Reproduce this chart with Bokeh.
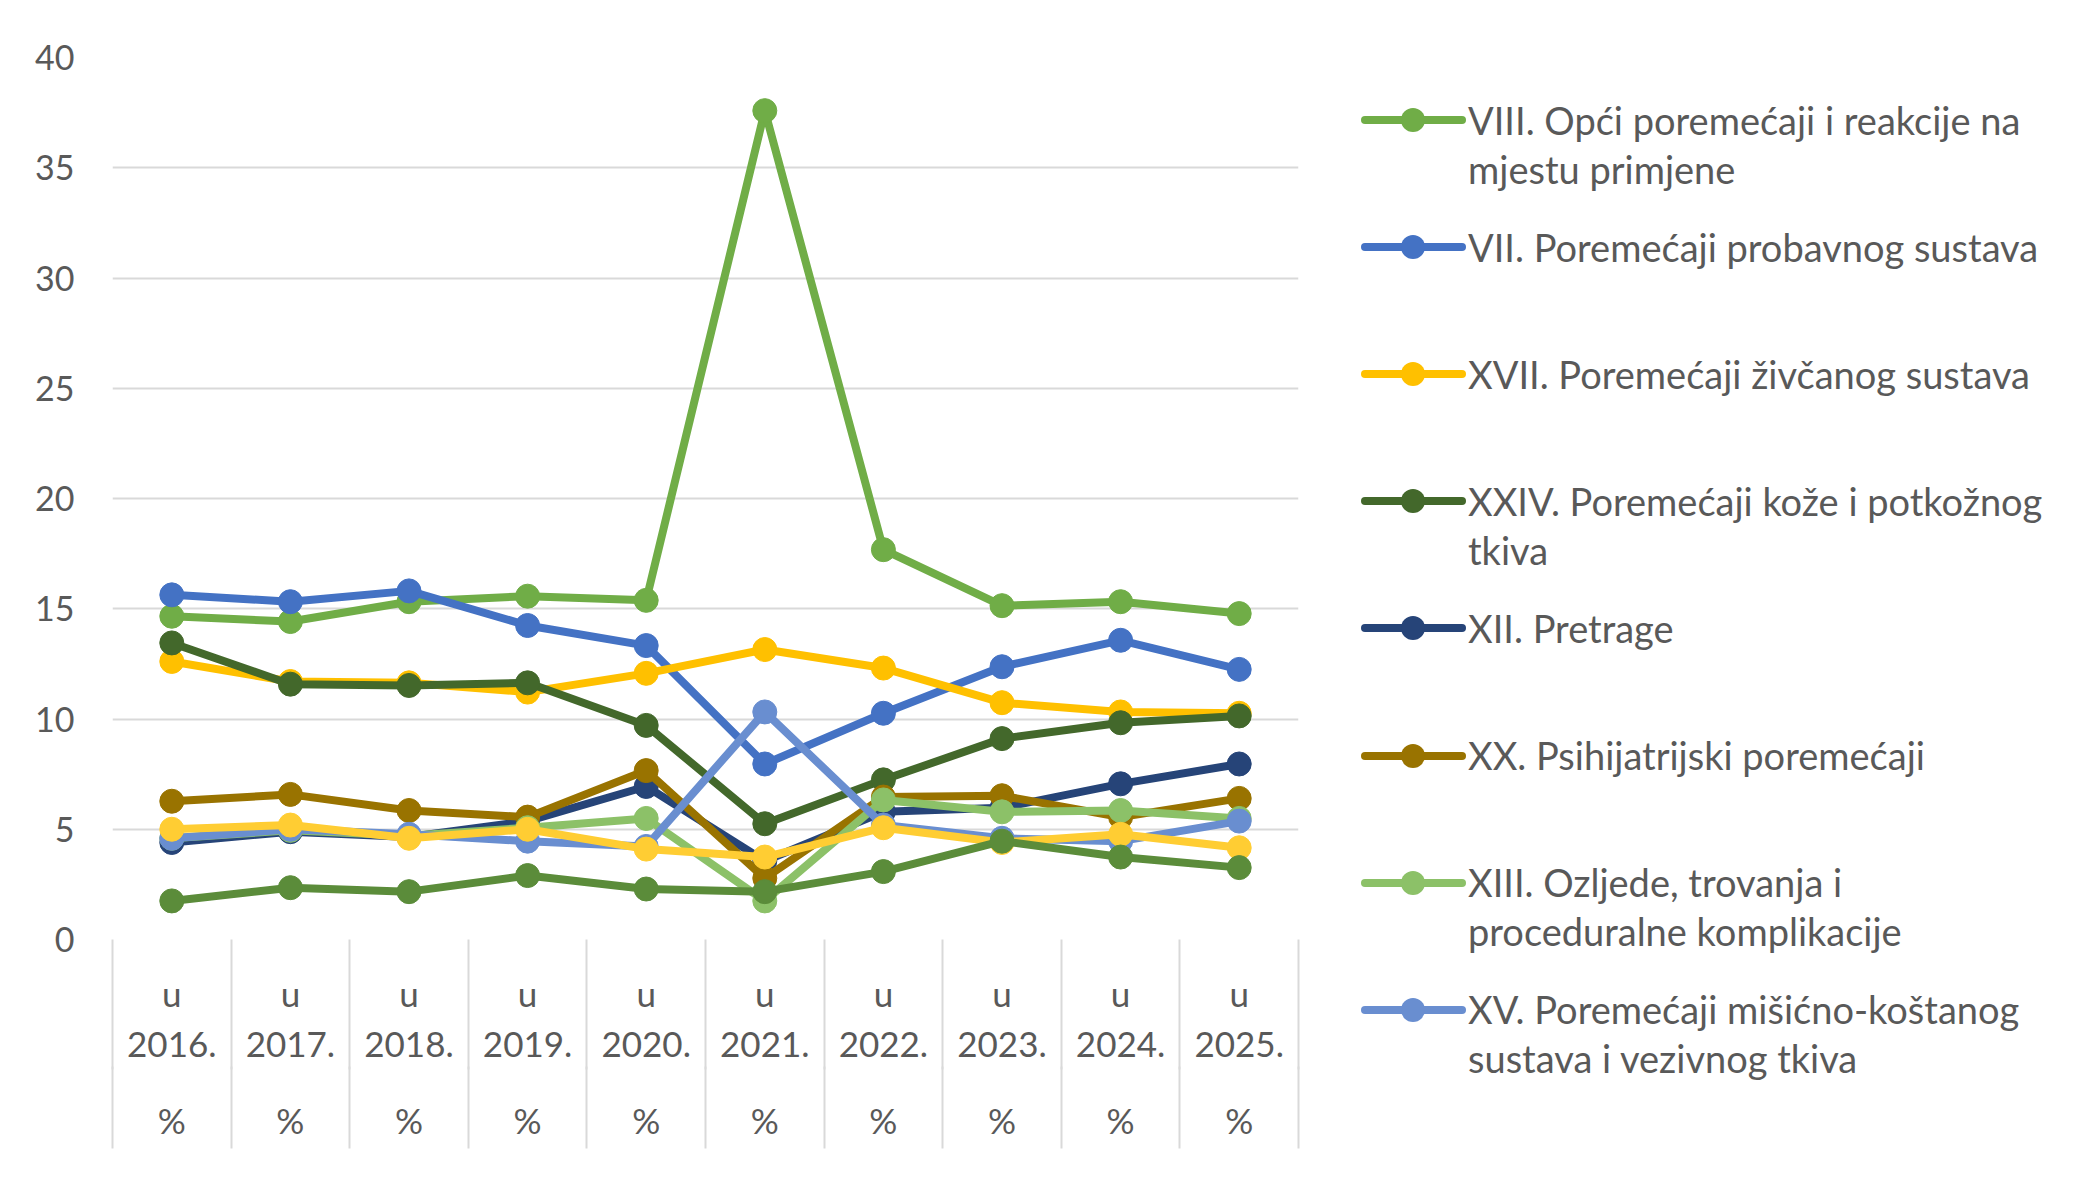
from bokeh.plotting import figure
from bokeh.models import FixedTicker, LinearAxis, Range1d, Div
from bokeh.layouts import row
from bokeh.embed import file_html
from bokeh.resources import INLINE

# ---------------- data ----------------
years = ["2016.", "2017.", "2018.", "2019.", "2020.", "2021.", "2022.", "2023.", "2024.", "2025."]
prefix = "u"
unit = "%"

viii = [14.66, 14.42, 15.32, 15.57, 15.38, 37.59, 17.68, 15.14, 15.32, 14.78]
vii = [15.63, 15.32, 15.81, 14.24, 13.33, 7.96, 10.26, 12.37, 13.57, 12.25]
xvii = [12.61, 11.70, 11.64, 11.22, 12.07, 13.15, 12.31, 10.74, 10.32, 10.26]
xxiv = [13.45, 11.58, 11.52, 11.64, 9.71, 5.25, 7.24, 9.11, 9.83, 10.14]
xii = [4.40, 4.89, 4.65, 5.37, 6.94, 3.56, 5.79, 5.97, 7.06, 7.96]
xx = [6.27, 6.58, 5.85, 5.55, 7.66, 2.78, 6.46, 6.52, 5.55, 6.40]
xiii = [4.59, 4.95, 4.70, 5.07, 5.49, 1.75, 6.33, 5.79, 5.85, 5.49]
xv = [4.59, 5.00, 4.77, 4.46, 4.22, 10.32, 5.19, 4.59, 4.46, 5.37]
ser9 = [5.00, 5.19, 4.59, 5.00, 4.10, 3.74, 5.07, 4.40, 4.77, 4.16]
ser10 = [1.75, 2.35, 2.17, 2.90, 2.29, 2.17, 3.08, 4.46, 3.74, 3.26]

series = [viii, vii, xvii, xxiv, xii, xx, xiii, xv, ser9, ser10]
colors = ["#70AD47", "#4472C4", "#FFC000", "#43682B", "#264478", "#997300",
          "#8CC168", "#698ED0", "#FFCD33", "#5B8C3A"]
legend_names = [
    "VIII. Opći poremećaji i reakcije na\nmjestu primjene",
    "VII. Poremećaji probavnog sustava",
    "XVII. Poremećaji živčanog sustava",
    "XXIV. Poremećaji kože i potkožnog\ntkiva",
    "XII. Pretrage",
    "XX. Psihijatrijski poremećaji",
    "XIII. Ozljede, trovanja i\nproceduralne komplikacije",
    "XV. Poremećaji mišićno-koštanog\nsustava i vezivnog tkiva",
]

y_ticks = list(range(0, 41, 5))

FONT = "Lato"
TXT = "#595959"
GRID = "#D9D9D9"
LW = 8
MS = 24

# ---------------- layout constants (pixels) ----------------
W, H = 2086, 1180
PLOT_W = 1300
F_LEFT, F_RIGHT, F_TOP, F_BOTTOM = 112, 1298, 57, 939

n = len(years)
xs = list(range(n))

p = figure(width=PLOT_W, height=H, x_range=Range1d(-0.5, n - 0.5), y_range=Range1d(0, 40),
           output_backend="svg", toolbar_location=None, x_axis_location=None,
           y_axis_location=None, min_border_left=F_LEFT, min_border_right=PLOT_W - F_RIGHT,
           min_border_top=F_TOP, min_border_bottom=H - F_BOTTOM)
p.outline_line_color = None
p.background_fill_color = "white"
p.border_fill_color = "white"

yaxis = LinearAxis(ticker=FixedTicker(ticks=y_ticks))
yaxis.axis_line_color = None
yaxis.major_tick_line_color = None
yaxis.minor_tick_line_color = None
yaxis.major_tick_out = 0
yaxis.major_label_standoff = 38
yaxis.major_label_text_font = FONT
yaxis.major_label_text_font_size = "34px"
yaxis.major_label_text_color = TXT
p.add_layout(yaxis, "left")

p.xgrid.visible = False
p.ygrid.ticker = FixedTicker(ticks=y_ticks)
p.ygrid.grid_line_color = GRID
p.ygrid.grid_line_width = 2

bounds = [i - 0.5 for i in range(n + 1)]


def cat_axis(labels, tick_out, standoff):
    ax = LinearAxis(ticker=FixedTicker(ticks=xs, minor_ticks=bounds))
    ax.major_label_overrides = {i: labels[i] for i in xs}
    ax.axis_line_color = None
    ax.major_tick_line_color = None
    ax.major_tick_out = 0
    ax.major_tick_in = 0
    ax.minor_tick_line_color = GRID
    ax.minor_tick_line_width = 2
    ax.minor_tick_out = tick_out
    ax.minor_tick_in = 0
    ax.major_label_standoff = standoff
    ax.major_label_text_font = FONT
    ax.major_label_text_font_size = "35px"
    ax.major_label_text_color = TXT
    ax.major_label_text_line_height = 1.2
    return ax


p.add_layout(cat_axis([f"{prefix}\n{y}" for y in years], 130, -98), "below")
p.add_layout(cat_axis([unit] * n, 82, -50), "below")

for vals, col in zip(series, colors):
    p.line(xs, vals, line_color=col, line_width=LW, line_join="round", line_cap="round")
    p.scatter(xs, vals, marker="circle", size=MS, fill_color=col, line_color=col)

# ---------------- legend panel (HTML) ----------------
LEG_W = W - PLOT_W
ENTRY_Y0 = 120
ENTRY_DY = 127.1
LINE_H = 49
SAMPLE_X0, SAMPLE_X1, MARK_X, TEXT_X = 65, 162, 113, 168
R = 12

items = []
for k, name in enumerate(legend_names):
    yk = ENTRY_Y0 + k * ENTRY_DY
    col = colors[k]
    sw = SAMPLE_X1 - SAMPLE_X0
    items.append(
        f'<svg style="position:absolute;left:{SAMPLE_X0 - 4}px;top:{yk - R:.1f}px" '
        f'width="{sw + 8}" height="{2 * R}">'
        f'<line x1="4" y1="{R}" x2="{sw + 4}" y2="{R}" stroke="{col}" stroke-width="{LW}" '
        f'stroke-linecap="round"/>'
        f'<circle cx="{MARK_X - SAMPLE_X0 + 4}" cy="{R}" r="{R}" fill="{col}"/></svg>'
    )
    lines = "<br>".join(name.split("\n"))
    items.append(
        f'<div style="position:absolute;left:{TEXT_X}px;top:{yk - LINE_H / 2:.1f}px;'
        f'line-height:{LINE_H}px;white-space:nowrap">{lines}</div>'
    )

html = (f'<div style="position:relative;width:{LEG_W}px;height:{H}px;background:white;'
        f'font-family:{FONT},sans-serif;font-size:38px;color:{TXT}">' + "".join(items) + "</div>")
leg = Div(text=html, width=LEG_W, height=H, margin=0)

layout = row(p, leg)
open("out.html", "w").write(file_html(layout, INLINE))
